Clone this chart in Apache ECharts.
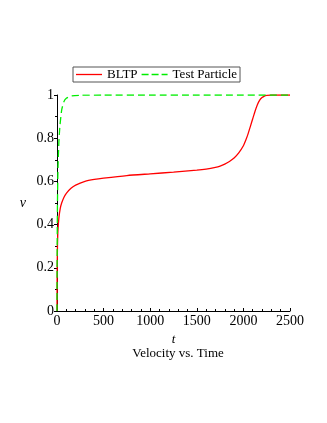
<!DOCTYPE html>
<html><head><meta charset="utf-8">
<script src="https://cdn.jsdelivr.net/npm/echarts@6/dist/echarts.min.js"></script>
<style>html,body{margin:0;padding:0;background:#fff}#c{width:327px;height:423px}</style>
</head><body><div id="c"></div>
<script>
var bltpT = [0,1,2,5,10,20,35,50,75,100,150,200,300,400,500,750,1000,1250,1500,1600,1700,1750,1800,1850,1900,1950,2000,2025,2050,2075,2100,2125,2150,2175,2200,2225,2250,2300,2400,2500];
var bltpV = [0,0.13,0.2,0.3,0.37,0.43,0.475,0.5,0.527,0.545,0.568,0.583,0.6,0.609,0.615,0.627,0.635,0.643,0.652,0.657,0.665,0.671,0.68,0.692,0.708,0.732,0.765,0.79,0.82,0.855,0.89,0.925,0.955,0.976,0.988,0.995,0.998,1.0,1.0,1.0];
var testT = [0,1,2,5,10,20,30,50,75,100,150,250,500,1000,1500,2000,2500];
var testV = [0,0.18,0.3,0.5,0.65,0.78,0.85,0.93,0.97,0.985,0.995,0.999,1,1,1,1,1];
var xTicks = [0,500,1000,1500,2000,2500];
var yTicks = [0,0.2,0.4,0.6,0.8,1];
var seriesNames = ['BLTP','Test Particle'];
var titleText = 'Velocity vs. Time';

function pairs(a,b){return a.map(function(x,i){return [x,b[i]];});}
var font = '"Liberation Serif","DejaVu Serif",serif';
var chart = echarts.init(document.getElementById('c'));
chart.setOption({
  animation:false,
  textStyle:{fontFamily:font},
  title:{text:titleText,left:173,top:342,textAlign:'center',textStyle:{fontFamily:font,fontSize:13,fontWeight:'normal',color:'#000'}},
  legend:{top:67,left:73,itemWidth:26,itemHeight:10,itemGap:4,padding:[1,3,1,3],borderColor:'#555',borderWidth:1,
    textStyle:{fontFamily:font,fontSize:13,color:'#000'},
    data:[{name:seriesNames[0],icon:'path://M0,5L26,5L26,6.3L0,6.3Z'},{name:seriesNames[1],icon:'path://M0,5L7,5L7,6.3L0,6.3ZM10,5L17,5L17,6.3L10,6.3ZM20,5L26,5L26,6.3L20,6.3Z'}]},
  grid:{left:57,right:37,top:95,bottom:112},
  xAxis:{type:'value',min:0,max:2500,interval:500,name:'t',nameLocation:'middle',nameGap:19,
    nameTextStyle:{fontFamily:font,fontStyle:'italic',fontSize:13,color:'#000'},
    axisLine:{lineStyle:{color:'#000',width:1}},
    axisTick:{inside:true,length:3,lineStyle:{color:'#000'}},
    minorTick:{show:true,splitNumber:5,length:2,lineStyle:{color:'#000'}},
    splitLine:{show:false},
    axisLabel:{fontFamily:font,fontSize:14,color:'#000',margin:3,formatter:function(v){return String(v);}}},
  yAxis:{type:'value',min:0,max:1,interval:0.2,name:'v',nameLocation:'middle',nameGap:31,nameRotate:0,
    nameTextStyle:{fontFamily:font,fontStyle:'italic',fontSize:14,color:'#000'},
    axisLine:{show:true,lineStyle:{color:'#000',width:1}},
    axisTick:{show:true,length:3,lineStyle:{color:'#000'}},
    minorTick:{show:true,splitNumber:2,length:2,lineStyle:{color:'#000'}},
    splitLine:{show:false},
    axisLabel:{fontFamily:font,fontSize:14,color:'#000',margin:3,formatter:function(v){return String(+v.toFixed(1));}}},
  series:[
    {name:seriesNames[0],type:'line',data:pairs(bltpT,bltpV),smooth:0.2,showSymbol:false,color:'#ff0000',lineStyle:{width:1.3,color:'#ff0000'}},
    {name:seriesNames[1],type:'line',data:pairs(testT,testV),smooth:0.2,showSymbol:false,color:'#00ee00',lineStyle:{width:1.3,type:[7,4],color:'#00ee00'}}
  ]
});
</script></body></html>
